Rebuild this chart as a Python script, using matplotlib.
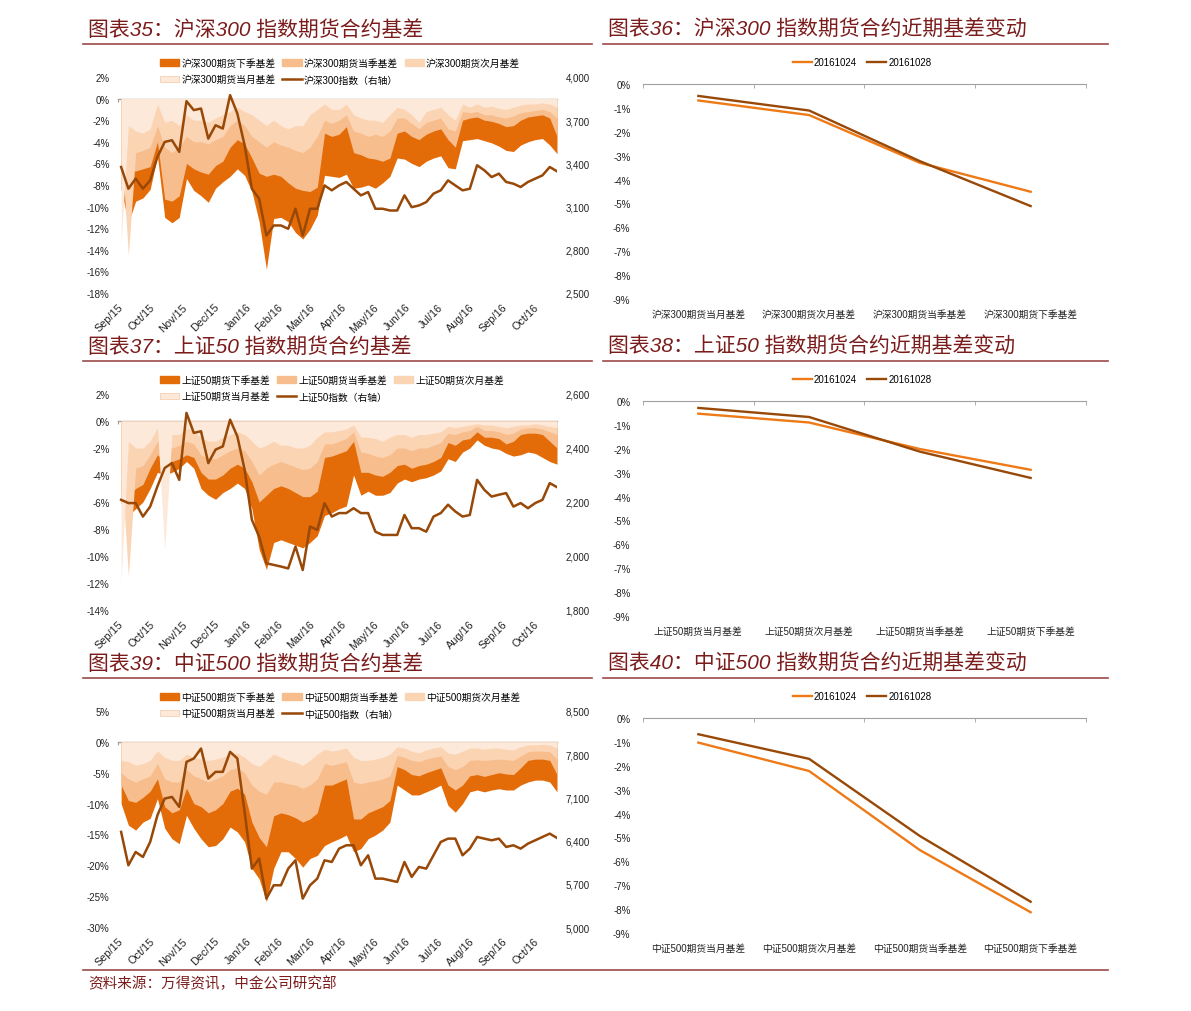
import numpy as np
import pandas as pd
import matplotlib
matplotlib.use("Agg")
import matplotlib.pyplot as plt
import matplotlib.dates as mdates
from matplotlib.patches import Patch
from matplotlib.lines import Line2D
from matplotlib.ticker import FuncFormatter

plt.rcParams["font.family"] = ["Liberation Sans", "Noto Sans CJK SC"]
plt.rcParams["axes.unicode_minus"] = False

# weekly samples
dates = pd.date_range("2015-09-04", periods=61, freq="7D")
months = pd.date_range("2015-09-01", "2016-10-01", freq="MS")

# 沪深300
hs_xj = [-8.4, -11.5, -9.5, -9.2, -8.4, -5.3, -11.0, -11.5, -11.0, -7.4,
         -8.5, -9.0, -9.6, -8.3, -7.7, -7.2, -6.5, -7.1, -8.6, -11.4,
         -15.8, -11.1, -11.0, -11.4, -12.4, -13.0, -12.1, -10.8, -7.1, -7.2,
         -7.3, -7.0, -8.3, -8.2, -8.0, -8.3, -7.8, -7.2, -5.5, -5.6,
         -6.0, -6.3, -5.8, -5.5, -5.3, -6.4, -6.5, -3.9, -3.8, -3.7,
         -3.9, -4.1, -4.4, -4.8, -4.9, -4.3, -4.0, -3.8, -3.7, -4.3, -5.1]
hs_dj = [-6.0, -6.8, -6.7, -6.5, -6.3, -4.0, -9.3, -9.5, -9.0, -6.0,
         -6.5, -6.8, -7.0, -6.2, -5.8, -4.5, -3.8, -4.2, -5.5, -6.9,
         -7.2, -7.0, -7.2, -7.8, -8.3, -8.5, -8.6, -8.2, -3.2, -3.5,
         -3.3, -2.6, -5.0, -5.2, -5.5, -5.6, -5.8, -5.5, -3.2, -3.0,
         -3.5, -3.8, -3.3, -3.0, -2.8, -3.8, -4.5, -2.0, -1.8, -1.7,
         -2.0, -2.1, -2.3, -2.6, -2.5, -2.0, -1.7, -1.6, -1.5, -1.8, -3.5]
hs_cy = [-4.0, -14.5, -5.0, -4.8, -4.5, -2.5, -4.5, -5.0, -4.5, -3.5,
         -4.0, -4.0, -4.2, -3.8, -3.5, -2.5, -2.0, -2.5, -3.5, -4.0,
         -4.5, -4.0, -4.3, -4.5, -4.8, -5.0, -4.5, -3.5, -2.0, -2.3,
         -2.0, -1.5, -3.0, -3.2, -3.5, -3.3, -3.5, -3.0, -1.8, -1.8,
         -2.3, -2.8, -2.2, -2.0, -1.8, -2.8, -3.0, -1.2, -1.3, -1.2,
         -1.5, -1.5, -1.7, -1.8, -1.6, -1.3, -1.2, -1.1, -1.0, -1.2, -1.8]
hs_dy = [-13.5, -2.5, -3.0, -3.2, -2.8, -0.5, -2.2, -2.0, -2.5, -1.5,
         -2.0, -2.0, -2.2, -1.8, -1.5, -1.2, -0.8, -1.2, -1.5, -2.0,
         -2.5, -2.0, -2.5, -2.8, -2.5, -2.5, -1.5, -1.0, -0.5, -1.0,
         -1.0, -0.5, -1.5, -1.8, -2.0, -2.0, -2.2, -1.5, -0.8, -1.0,
         -1.5, -2.2, -1.2, -1.0, -0.8, -1.5, -2.0, -0.5, -0.8, -0.5,
         -0.8, -0.7, -0.9, -1.0, -0.8, -0.6, -0.5, -0.5, -0.4, -0.5, -0.8]
hs_idx = [3375, 3224, 3294, 3224, 3282, 3445, 3549, 3561, 3480, 3832,
          3770, 3781, 3572, 3665, 3642, 3874, 3746, 3526, 3224, 3155,
          2899, 2969, 2969, 2946, 3085, 2899, 3085, 3085, 3247, 3213,
          3247, 3271, 3224, 3178, 3201, 3085, 3085, 3073, 3073, 3178,
          3096, 3108, 3131, 3190, 3213, 3282, 3247, 3213, 3224, 3387,
          3352, 3305, 3329, 3271, 3259, 3236, 3271, 3294, 3317, 3375, 3345]

# 上证50
sz_xj = [-6.1, -7.0, -6.5, -6.0, -5.0, -3.8, -4.0, -3.8, -3.5, -3.0,
         -3.5, -5.0, -5.5, -5.8, -5.3, -5.0, -4.6, -5.0, -6.5, -9.5,
         -11.0, -9.0, -8.8, -9.0, -9.2, -9.4, -9.0, -8.5, -7.0, -6.8,
         -6.5, -6.3, -4.0, -5.5, -5.2, -5.5, -5.5, -5.3, -4.6, -4.3,
         -4.5, -4.3, -4.2, -4.0, -3.7, -2.8, -3.0, -2.3, -2.0, -1.4,
         -1.8, -2.0, -2.1, -2.4, -2.6, -2.5, -2.3, -2.4, -2.7, -3.0, -3.2]
sz_dj = [-5.5, -5.5, -5.0, -4.7, -3.5, -2.5, -3.0, -3.0, -2.8, -2.5,
         -2.7, -3.8, -4.3, -4.3, -4.0, -3.5, -3.2, -3.5, -4.5, -6.0,
         -5.5, -5.0, -4.8, -5.0, -5.3, -5.6, -5.6, -5.2, -2.7, -2.6,
         -2.4, -2.2, -1.5, -3.8, -3.8, -4.0, -4.1, -3.8, -3.3, -3.2,
         -3.5, -3.3, -3.2, -3.0, -2.7, -1.6, -1.8, -1.4, -1.3, -0.8,
         -1.2, -1.2, -1.3, -1.7, -1.5, -1.0, -0.9, -0.9, -1.0, -1.5, -2.0]
sz_cy = [-3.0, -11.5, -3.5, -3.3, -2.5, -1.5, -2.0, -2.0, -1.8, -1.5,
         -1.7, -2.5, -2.8, -2.8, -2.5, -2.2, -2.0, -2.2, -3.0, -4.0,
         -3.5, -3.2, -3.0, -3.2, -3.4, -3.6, -3.5, -3.0, -1.7, -1.7,
         -1.5, -1.3, -0.8, -2.3, -2.4, -2.6, -2.7, -2.5, -2.0, -2.0,
         -2.2, -2.0, -2.0, -1.8, -1.6, -0.9, -1.0, -0.8, -0.7, -0.4,
         -0.7, -0.7, -0.8, -1.0, -0.9, -0.6, -0.5, -0.5, -0.6, -0.8, -1.0]
sz_dy = [-12.0, -1.5, -2.0, -2.0, -1.5, -0.5, -9.5, -1.0, -1.0, -0.5,
         -0.8, -1.2, -1.5, -1.5, -1.2, -1.0, -0.8, -1.0, -1.5, -2.0,
         -1.8, -1.5, -1.8, -1.8, -2.0, -2.0, -1.8, -1.2, -0.8, -0.8,
         -0.7, -0.6, -0.3, -1.2, -1.2, -1.3, -1.5, -1.2, -1.0, -1.0,
         -1.2, -1.0, -1.0, -0.9, -0.8, -0.4, -0.5, -0.4, -0.3, -0.2,
         -0.3, -0.3, -0.4, -0.5, -0.4, -0.3, -0.3, -0.2, -0.3, -0.4, -0.5]
sz_idx = [2208, 2196, 2196, 2146, 2183, 2258, 2326, 2344, 2282, 2530,
          2456, 2462, 2344, 2394, 2406, 2505, 2443, 2320, 2134, 2072,
          1973, 1967, 1961, 1954, 2035, 1948, 2109, 2097, 2196, 2146,
          2159, 2159, 2177, 2159, 2159, 2090, 2078, 2078, 2078, 2152,
          2103, 2103, 2090, 2146, 2159, 2190, 2165, 2146, 2152, 2282,
          2245, 2220, 2227, 2233, 2183, 2196, 2177, 2196, 2208, 2270, 2255]

# 中证500
zz_xj = [-10.0, -13.5, -14.3, -13.0, -12.4, -9.2, -14.0, -15.7, -16.5, -11.9,
         -14.0, -15.7, -17.0, -16.8, -15.7, -13.8, -14.6, -16.2, -20.5, -22.2,
         -25.9, -20.5, -17.8, -17.8, -18.9, -20.3, -18.9, -18.4, -16.8, -16.2,
         -15.7, -15.1, -17.8, -17.3, -15.7, -15.1, -14.3, -13.0, -7.0, -7.8,
         -8.6, -8.6, -8.1, -7.6, -7.0, -10.3, -11.4, -10.0, -8.1, -7.8,
         -8.1, -7.8, -7.6, -7.8, -7.8, -7.0, -6.5, -6.2, -6.2, -6.5, -8.1]
zz_dj = [-7.0, -9.5, -9.8, -9.0, -8.0, -6.0, -10.5, -11.5, -11.0, -7.5,
         -10.0, -10.5, -11.5, -11.0, -10.0, -8.0, -7.5, -8.5, -13.0, -15.5,
         -17.0, -12.0, -11.5, -11.8, -12.3, -13.0, -12.5, -11.5, -7.0, -7.0,
         -6.5, -6.0, -12.5, -12.5, -11.5, -11.0, -10.5, -9.5, -4.0, -4.5,
         -5.3, -5.5, -5.0, -4.6, -4.2, -7.0, -7.8, -7.0, -5.5, -5.3,
         -5.6, -5.3, -5.0, -5.2, -5.3, -4.2, -3.0, -2.8, -2.8, -3.0, -5.3]
zz_cy = [-5.0, -6.0, -6.5, -6.0, -5.5, -3.5, -6.0, -6.5, -6.5, -4.5,
         -5.5, -6.0, -6.5, -6.0, -5.5, -4.5, -4.2, -5.0, -7.0, -8.0,
         -8.5, -6.5, -6.5, -6.8, -7.0, -7.5, -7.0, -6.0, -3.5, -3.8,
         -3.5, -3.2, -6.5, -6.8, -6.5, -6.3, -6.0, -5.5, -2.2, -2.5,
         -3.0, -3.2, -2.8, -2.5, -2.3, -4.0, -4.5, -4.0, -3.0, -2.9,
         -3.0, -2.9, -2.8, -2.9, -3.0, -2.3, -1.6, -1.5, -1.5, -1.6, -2.8]
zz_dy = [-3.0, -3.2, -3.8, -3.5, -3.0, -1.5, -2.5, -3.0, -3.0, -2.0,
         -2.5, -2.8, -3.0, -2.8, -2.5, -2.0, -1.8, -2.5, -3.5, -4.0,
         -3.0, -2.0, -2.5, -3.0, -3.3, -3.8, -3.0, -2.0, -1.2, -1.5,
         -1.3, -1.0, -2.5, -3.0, -3.0, -2.8, -2.5, -2.0, -0.8, -1.0,
         -1.5, -1.8, -1.3, -1.0, -0.8, -1.8, -2.0, -1.5, -1.0, -1.0,
         -1.2, -1.0, -1.0, -1.2, -1.3, -0.8, -0.5, -0.5, -0.4, -0.5, -1.0]
zz_idx = [6541, 6000, 6216, 6135, 6378, 6811, 7081, 7108, 6946, 7676,
          7730, 7892, 7405, 7514, 7514, 7838, 7730, 6865, 5946, 6108,
          5460, 5676, 5676, 5946, 6081, 5460, 5676, 5784, 6081, 6054,
          6270, 6324, 6324, 6000, 6162, 5784, 5784, 5757, 5730, 6054,
          5811, 5973, 5946, 6162, 6378, 6432, 6432, 6162, 6270, 6459,
          6432, 6405, 6432, 6297, 6324, 6270, 6351, 6405, 6459, 6513, 6443]

# 近期基差变动 (%)
hs_1024 = [-0.69, -1.30, -3.30, -4.51]
hs_1028 = [-0.50, -1.11, -3.23, -5.11]
sz_1024 = [-0.53, -0.90, -2.01, -2.88]
sz_1028 = [-0.29, -0.67, -2.12, -3.22]
zz_1024 = [-1.03, -2.22, -5.53, -8.13]
zz_1028 = [-0.68, -1.71, -4.94, -7.69]
kinds = ["当月基差", "次月基差", "当季基差", "下季基差"]

W, H = 1191, 1012
C_XJ, C_DJ, C_CY, C_DY = "#E36C09", "#F8BD8C", "#FBD4B4", "#FDE9D9"
C_IDX = "#984807"
C_1024, C_1028 = "#EE7A17", "#984807"
GRAY = "#A0A0A0"
RED = "#7B1C1C"
TXT = "#222222"

# the source axis spaces month marks evenly (trading-day axis)
x0 = pd.Timestamp("2015-09-01")
month_ticks = [x0 + pd.Timedelta(days=30.8 * k) for k in range(len(months))]

fig = plt.figure(figsize=(W / 100, H / 100), dpi=100)


def title(x, y, s, xa, xb):
    fig.text(x / W, 1 - y / H, s, fontsize=15, style="italic", color=RED, va="center",
             family=["Liberation Sans", "Noto Sans CJK SC"])
    fig.add_artist(Line2D([xa / W, xb / W], [1 - (y + 15) / H] * 2, color="#9C4A48", lw=1.2))


def basis_panel(top, name, xj, dj, cy, dy, idx, ylim, ystep, y2lim, y2step):
    ax = fig.add_axes([118 / W, 1 - (top + 216) / H, 439 / W, 216 / H])
    ax.fill_between(dates, 0, xj, color=C_XJ, lw=0)
    ax.fill_between(dates, 0, dj, color=C_DJ, lw=0)
    ax.fill_between(dates, 0, cy, color=C_CY, lw=0)
    ax.fill_between(dates, 0, dy, color=C_DY, lw=0)
    ax.set_xlim(x0, pd.Timestamp("2016-10-28"))
    ax.set_ylim(*ylim)
    ax.set_yticks(np.arange(ylim[0], ylim[1] + 0.1, ystep))
    ax.yaxis.set_major_formatter(FuncFormatter(lambda v, p: f"{v:.0f}%"))
    ax.set_xticks(month_ticks, months.strftime("%b/%y"))
    ax.tick_params(length=0, labelsize=7, colors=TXT)
    ax.tick_params(axis="y", pad=6)
    ax.tick_params(axis="x", pad=6, labelsize=7.8)
    plt.setp(ax.get_xticklabels(), rotation=45, ha="right", rotation_mode="anchor")
    for s in ax.spines.values():
        s.set_visible(False)
    zero = -ylim[0] / (ylim[1] - ylim[0])
    sec = ax.secondary_xaxis(zero)
    sec.set_xticks(mdates.date2num(month_ticks))
    sec.tick_params(direction="in", length=2.5, color=GRAY, labeltop=False, labelbottom=False)
    for s in sec.spines.values():
        s.set_color(GRAY)
        s.set_linewidth(1.0)

    ax2 = ax.twinx()
    ax2.plot(dates, idx, color=C_IDX, lw=1.8)
    ax2.set_ylim(*y2lim)
    ax2.set_yticks(np.arange(y2lim[0], y2lim[1] + 1, y2step))
    ax2.yaxis.set_major_formatter(FuncFormatter(lambda v, p: f"{v:,.0f}"))
    ax2.tick_params(length=0, labelsize=7, colors=TXT, pad=6)
    for s in ax2.spines.values():
        s.set_visible(False)

    # row-major order for a 3-column legend
    handles = [Patch(color=C_XJ), Patch(color=C_DY, ec="#F5C9A5", lw=0.5), Patch(color=C_DJ),
               Line2D([], [], color=C_IDX, lw=1.8), Patch(color=C_CY)]
    labels = [name + "期货下季基差", name + "期货当月基差", name + "期货当季基差",
              name + "指数（右轴）", name + "期货次月基差"]
    ax2.legend(handles, labels, loc="upper left", ncol=3, frameon=False, fontsize=7,
               bbox_to_anchor=(160 / W, 1 - (top - 19) / H), bbox_transform=fig.transFigure,
               handlelength=2.0, handleheight=0.6, handletextpad=0.2, columnspacing=0.7,
               labelspacing=0.66, borderpad=0, borderaxespad=0)


def line_panel(top, name, v1, v2):
    ax = fig.add_axes([643 / W, 1 - (top + 215) / H, 443 / W, 215 / H])
    x = np.arange(len(kinds))
    ax.plot(x, v1, color=C_1024, lw=1.7, label="20161024")
    ax.plot(x, v2, color=C_1028, lw=1.7, label="20161028")
    ax.set_xlim(-0.5, 3.5)
    ax.set_ylim(-9, 0)
    ax.set_yticks(range(-9, 1))
    ax.yaxis.set_major_formatter(FuncFormatter(lambda v, p: f"{v:.0f}%"))
    ax.set_xticks(x, [name + "期货" + k for k in kinds])
    ax.set_xticks(np.arange(-0.5, 4, 1), minor=True)
    ax.tick_params(which="major", length=0, labelsize=7, colors=TXT)
    ax.tick_params(axis="y", pad=9)
    ax.tick_params(axis="x", pad=7)
    ax.tick_params(axis="x", which="minor", top=True, bottom=False, direction="in",
                   length=3, color=GRAY)
    for k, s in ax.spines.items():
        s.set_visible(k == "top")
    ax.spines["top"].set_color(GRAY)
    ax.legend(loc="center", ncol=2, frameon=False, fontsize=7,
              bbox_to_anchor=(862 / W, 1 - (top - 22) / H), bbox_transform=fig.transFigure,
              handlelength=2.0, handletextpad=0.2, columnspacing=1.0)


title(88, 30, "图表35：沪深300 指数期货合约基差", 83, 592)
title(608, 30, "图表36：沪深300 指数期货合约近期基差变动", 603, 1108)
title(88, 347, "图表37：上证50 指数期货合约基差", 83, 592)
title(608, 347, "图表38：上证50 指数期货合约近期基差变动", 603, 1108)
title(88, 664, "图表39：中证500 指数期货合约基差", 83, 592)
title(608, 664, "图表40：中证500 指数期货合约近期基差变动", 603, 1108)

basis_panel(78, "沪深300", hs_xj, hs_dj, hs_cy, hs_dy, hs_idx, (-18, 2), 2, (2500, 4000), 300)
basis_panel(395, "上证50", sz_xj, sz_dj, sz_cy, sz_dy, sz_idx, (-14, 2), 2, (1800, 2600), 200)
basis_panel(712, "中证500", zz_xj, zz_dj, zz_cy, zz_dy, zz_idx, (-30, 5), 5, (5000, 8500), 700)

line_panel(85, "沪深300", hs_1024, hs_1028)
line_panel(402, "上证50", sz_1024, sz_1028)
line_panel(719, "中证500", zz_1024, zz_1028)

fig.add_artist(Line2D([83 / W, 1108 / W], [1 - 971 / H] * 2, color="#9C4A48", lw=1.2))
fig.text(88 / W, 1 - 984 / H, "资料来源：万得资讯，中金公司研究部", fontsize=10.5, style="italic",
         color=RED, va="center", family=["Liberation Sans", "Noto Sans CJK SC"])

fig.savefig("out.png", dpi=100)
